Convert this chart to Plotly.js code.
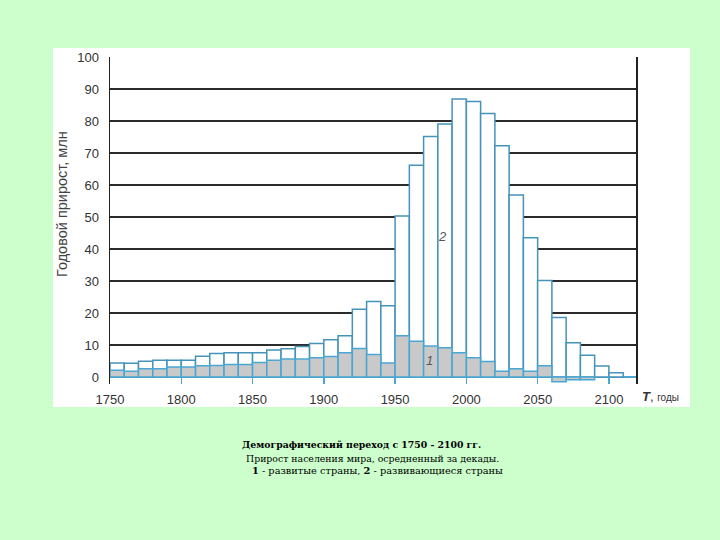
<!DOCTYPE html>
<html>
<head>
<meta charset="utf-8">
<script src="https://cdn.plot.ly/plotly-3.0.1.min.js"></script>
<style>
  html, body { margin: 0; padding: 0; background: #ccffcc; }
  #chart { width: 720px; height: 540px; }
</style>
</head>
<body>
<div id="chart"></div>
<script>
// Decade start years
const decades = [1750, 1760, 1770, 1780, 1790, 1800, 1810, 1820, 1830, 1840,
                 1850, 1860, 1870, 1880, 1890, 1900, 1910, 1920, 1930, 1940,
                 1950, 1960, 1970, 1980, 1990, 2000, 2010, 2020, 2030, 2040,
                 2050, 2060, 2070, 2080, 2090, 2100];
// Total world annual growth (top of white bars, "2"), million
const totalGrowth = [4.4, 4.3, 4.9, 5.2, 5.2, 5.2, 6.5, 7.3, 7.6, 7.6,
                     7.6, 8.4, 8.8, 9.5, 10.5, 11.6, 12.9, 21.2, 23.6, 22.3,
                     50.3, 66.2, 75.2, 79.1, 86.9, 86.1, 82.4, 72.3, 56.9, 43.5,
                     30.2, 18.6, 10.7, 6.8, 3.4, 1.3];
// Developed countries annual growth (grey bars, "1"), million
const developedGrowth = [2.1, 1.8, 2.6, 2.6, 3.1, 3.1, 3.5, 3.6, 3.9, 3.9,
                         4.5, 5.2, 5.6, 5.6, 6.0, 6.4, 7.6, 8.9, 7.0, 4.4,
                         12.9, 11.2, 9.7, 9.1, 7.6, 6.0, 4.8, 1.8, 2.6, 1.8,
                         3.5, -1.5, -0.9, -0.9, null, null];
const yTicks = [0, 10, 20, 30, 40, 50, 60, 70, 80, 90, 100];
const xTicks = [1750, 1800, 1850, 1900, 1950, 2000, 2050, 2100];

const px2paperX = p => (p - 110) / 526;
const px2paperY = p => (384 - p) / 327;

const traces = [
  {
    type: 'bar', x: decades, y: totalGrowth, offset: 0, width: 10,
    marker: { color: '#ffffff', line: { color: '#4593b8', width: 1.5 } },
    hoverinfo: 'x+y', showlegend: false
  },
  {
    type: 'bar', x: decades, y: developedGrowth, offset: 0, width: 10,
    marker: { color: '#c9c9c9', line: { color: '#4aa6d2', width: 1.5 } },
    hoverinfo: 'x+y', showlegend: false
  }
];

const layout = {
  width: 720, height: 540,
  paper_bgcolor: '#ccffcc',
  plot_bgcolor: 'rgba(0,0,0,0)',
  margin: { l: 110, r: 84, t: 57, b: 156, pad: 0 },
  barmode: 'overlay',
  bargap: 0,
  showlegend: false,
  xaxis: {
    range: [1750, 2119],
    tickvals: xTicks,
    ticks: 'inside', ticklen: 7, tickwidth: 1.5, tickcolor: '#4aa6d2',
    showgrid: false, zeroline: false, showline: false,
    ticklabelstandoff: 6,
    tickfont: { family: 'Liberation Sans, Arial, sans-serif', size: 13, color: '#333' }
  },
  yaxis: {
    range: [-2.2, 100.05],
    tickvals: yTicks,
    ticks: '',
    showgrid: true, gridcolor: '#2b2b2b', gridwidth: 1.5,
    zeroline: true, zerolinecolor: '#4aa6d2', zerolinewidth: 2,
    showline: true, linecolor: '#222', linewidth: 1.5, mirror: true,
    ticklabelstandoff: 7,
    tickfont: { family: 'Liberation Sans, Arial, sans-serif', size: 13, color: '#333' }
  },
  shapes: [
    { type: 'rect', xref: 'paper', yref: 'paper', layer: 'below',
      x0: px2paperX(53), x1: px2paperX(690), y0: px2paperY(407), y1: px2paperY(48),
      fillcolor: '#ffffff', line: { width: 0 } }
  ],
  annotations: [
    { xref: 'paper', yref: 'paper', x: px2paperX(62), y: px2paperY(204),
      xanchor: 'center', yanchor: 'middle',
      text: 'Годовой прирост, млн', textangle: -90, showarrow: false,
      font: { family: 'Liberation Sans, Arial, sans-serif', size: 14.5, color: '#444' } },
    { xref: 'paper', yref: 'paper', x: px2paperX(640), y: px2paperY(397),
      xanchor: 'left', yanchor: 'middle', showarrow: false,
      text: '<b><i>T</i></b>, <span style="font-size:10px">годы</span>',
      font: { family: 'Liberation Sans, Arial, sans-serif', size: 13, color: '#333' } },
    { x: 1983.6, y: 43.8, xref: 'x', yref: 'y', text: '<i>2</i>', showarrow: false,
      font: { family: 'Liberation Sans, Arial, sans-serif', size: 13, color: '#555' } },
    { x: 1974.4, y: 5.3, xref: 'x', yref: 'y', text: '<i>1</i>', showarrow: false,
      font: { family: 'Liberation Sans, Arial, sans-serif', size: 13, color: '#555' } },
    { xref: 'paper', yref: 'paper', x: px2paperX(240), y: px2paperY(444),
      xanchor: 'left', yanchor: 'middle', showarrow: false,
      text: '<b>Демографический переход с 1750 - 2100 гг.</b>',
      font: { family: 'DejaVu Serif, serif', size: 9.3, color: '#000' } },
    { xref: 'paper', yref: 'paper', x: px2paperX(244), y: px2paperY(458),
      xanchor: 'left', yanchor: 'middle', showarrow: false,
      text: 'Прирост населения мира, осредненный за декады.',
      font: { family: 'DejaVu Serif, serif', size: 9.35, color: '#000' } },
    { xref: 'paper', yref: 'paper', x: px2paperX(250), y: px2paperY(470),
      xanchor: 'left', yanchor: 'middle', showarrow: false,
      text: '<b>1</b> - развитые страны, <b>2</b> - развивающиеся страны',
      font: { family: 'DejaVu Serif, serif', size: 9.8, color: '#000' } }
  ]
};

Plotly.newPlot('chart', traces, layout, { staticPlot: true, displayModeBar: false });
</script>
</body>
</html>
